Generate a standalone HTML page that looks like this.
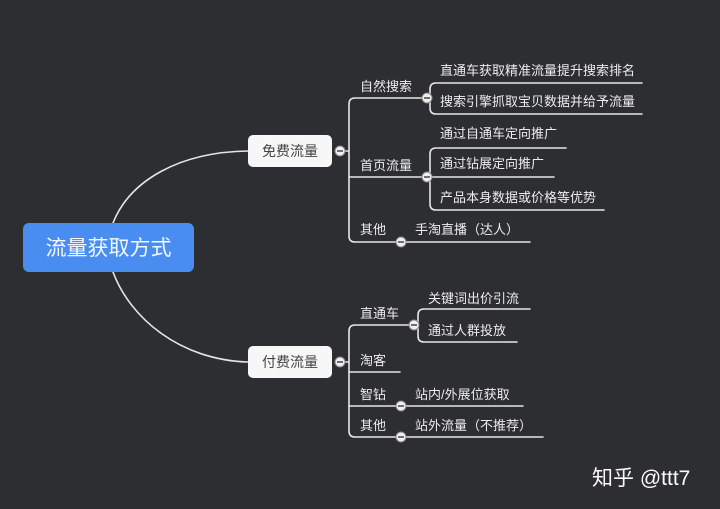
<!DOCTYPE html>
<html><head><meta charset="utf-8"><style>
html,body{margin:0;padding:0;background:#2d2e31;}
svg{display:block}
text{font-family:"Liberation Sans","Noto Sans CJK SC",sans-serif;fill:#ececec;font-size:13px;}
</style></head><body>
<svg width="720" height="509" viewBox="0 0 720 509" xmlns="http://www.w3.org/2000/svg">
<rect width="720" height="509" fill="#2d2e31"/>
<g fill="none" stroke="#e6e6e6" stroke-width="1.6" stroke-linecap="round">
<path d="M113 223 C130 180 180 152 248 151"/>
<path d="M113 272 C130 318 180 360 248 362"/>
<path d="M336 151 H349"/>
<path d="M426 98 H355 Q349 98 349 104 V236 Q349 242 355 242 H530"/>
<path d="M349 177 H426"/>
<path d="M642 83 H436 Q430 83 430 89 V108 Q430 114 436 114 H642"/>
<path d="M566 148 H436 Q430 148 430 154 V204 Q430 210 436 210 H604"/>
<path d="M430 177 H554"/>
<path d="M336 362 H349"/>
<path d="M413 325 H355 Q349 325 349 331 V431 Q349 437 355 437 H543"/>
<path d="M349 372 H400"/>
<path d="M349 406 H523"/>
<path d="M530 309 H424 Q418 309 418 315 V336 Q418 342 424 342 H517"/>
</g>
<rect x="23" y="223" width="171" height="49" rx="6" fill="#4a8df0"/>
<text x="108.5" y="255" text-anchor="middle" style="font-size:21px;fill:#f4f8ff">流量获取方式</text>
<rect x="248" y="135" width="84" height="32" rx="5" fill="#f7f7f7"/>
<text x="290" y="156" text-anchor="middle" style="fill:#444;font-size:14px">免费流量</text>
<rect x="248" y="346" width="84" height="32" rx="5" fill="#f7f7f7"/>
<text x="290" y="367" text-anchor="middle" style="fill:#444;font-size:14px">付费流量</text>
<g fill="#f0f0f0" stroke="#888" stroke-width="1">
<circle cx="340" cy="151" r="5"/><circle cx="340" cy="362" r="5"/>
<circle cx="427" cy="98" r="5"/><circle cx="427" cy="177" r="5"/><circle cx="401" cy="242" r="5"/>
<circle cx="414" cy="325" r="5"/><circle cx="401" cy="406" r="5"/><circle cx="401" cy="437" r="5"/>
</g>
<g stroke="#444" stroke-width="1.5">
<path d="M337 151h6M337 362h6M424 98h6M424 177h6M398 242h6M411 325h6M398 406h6M398 437h6"/>
</g>
<text x="360" y="91">自然搜索</text>
<text x="440" y="75">直通车获取精准流量提升搜索排名</text>
<text x="440" y="106">搜索引擎抓取宝贝数据并给予流量</text>
<text x="360" y="170">首页流量</text>
<text x="440" y="138">通过自通车定向推广</text>
<text x="440" y="168">通过钻展定向推广</text>
<text x="440" y="202">产品本身数据或价格等优势</text>
<text x="360" y="234">其他</text>
<text x="415" y="234">手淘直播（达人）</text>
<text x="360" y="318">直通车</text>
<text x="428" y="303">关键词出价引流</text>
<text x="428" y="335">通过人群投放</text>
<text x="360" y="365">淘客</text>
<text x="360" y="399">智钻</text>
<text x="415" y="399">站内/外展位获取</text>
<text x="360" y="430">其他</text>
<text x="415" y="430">站外流量（不推荐）</text>
<text x="592" y="485" style="font-size:21px;fill:#fafafa">知乎 @ttt7</text>
</svg>
</body></html>
